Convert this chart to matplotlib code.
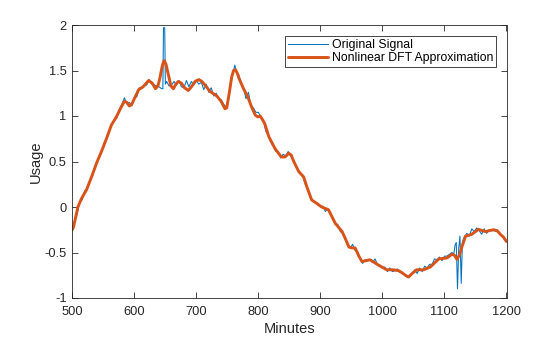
import matplotlib
matplotlib.use("Agg")
import matplotlib.pyplot as plt

# original signal
sig_t = [500, 504, 508, 512, 516, 520, 524, 528, 532, 536, 540, 544, 548, 552, 556, 560,
         564, 568, 572, 576, 580, 584, 588, 592, 596, 600, 604, 608, 612, 616, 620, 624,
         628, 632, 636, 640, 644, 646, 647, 649, 650, 652, 656, 660, 664, 668, 672, 676,
         680, 684, 688, 692, 696, 700, 704, 708, 712, 716, 720, 724, 728, 732, 736, 740,
         744, 748, 752, 756, 760, 762, 764, 768, 772, 776, 780, 784, 788, 792, 796, 800,
         804, 808, 812, 816, 820, 824, 828, 832, 836, 840, 844, 848, 852, 856, 860, 864,
         868, 872, 876, 880, 884, 888, 892, 896, 900, 904, 908, 912, 916, 920, 924, 928,
         932, 936, 940, 944, 948, 952, 956, 960, 964, 968, 972, 976, 980, 984, 988, 992,
         996, 1000, 1004, 1008, 1012, 1016, 1020, 1024, 1028, 1032, 1036, 1040, 1044, 1048,
         1052, 1056, 1060, 1064, 1068, 1072, 1076, 1080, 1084, 1088, 1092, 1096, 1100, 1104,
         1108, 1112, 1115, 1117, 1119, 1121, 1123, 1125, 1127, 1129, 1132, 1136, 1140, 1144,
         1148, 1152, 1156, 1160, 1164, 1168, 1172, 1176, 1180, 1184, 1188, 1192, 1196, 1200]
sig_y = [-0.24, -0.15, -0.07, 0.06, 0.08, 0.18, 0.20, 0.28, 0.34, 0.41, 0.49, 0.56, 0.62, 0.71, 0.75, 0.84,
         0.91, 0.96, 0.98, 1.08, 1.13, 1.20, 1.13, 1.15, 1.11, 1.20, 1.21, 1.31, 1.30, 1.34, 1.34, 1.40,
         1.35, 1.34, 1.33, 1.32, 1.30, 1.30, 1.97, 1.97, 1.35, 1.38, 1.33, 1.34, 1.38, 1.34, 1.39, 1.32,
         1.31, 1.39, 1.32, 1.38, 1.34, 1.39, 1.35, 1.37, 1.29, 1.35, 1.26, 1.31, 1.22, 1.25, 1.19, 1.18,
         1.13, 1.10, 1.19, 1.40, 1.50, 1.56, 1.50, 1.46, 1.37, 1.31, 1.19, 1.26, 1.11, 1.09, 1.04, 1.04,
         0.99, 0.96, 0.83, 0.79, 0.71, 0.67, 0.61, 0.61, 0.54, 0.58, 0.56, 0.61, 0.56, 0.53, 0.45, 0.41,
         0.37, 0.33, 0.24, 0.20, 0.09, 0.06, 0.05, 0.04, 0.00, 0.01, -0.05, -0.02, -0.08, -0.12, -0.19, -0.19,
         -0.27, -0.29, -0.36, -0.42, -0.45, -0.41, -0.48, -0.49, -0.56, -0.62, -0.58, -0.58, -0.58, -0.61, -0.57, -0.63,
         -0.64, -0.67, -0.66, -0.71, -0.67, -0.71, -0.70, -0.68, -0.72, -0.72, -0.75, -0.77, -0.75, -0.74,
         -0.69, -0.73, -0.67, -0.71, -0.65, -0.67, -0.63, -0.63, -0.57, -0.58, -0.55, -0.59, -0.54, -0.54,
         -0.52, -0.50, -0.52, -0.42, -0.39, -0.90, -0.45, -0.32, -0.84, -0.38, -0.33, -0.29, -0.32, -0.24,
         -0.27, -0.23, -0.26, -0.30, -0.24, -0.29, -0.25, -0.26, -0.26, -0.27, -0.28, -0.31, -0.35, -0.38]

# nonlinear DFT approximation
apx_t = [500, 502, 509, 515, 523, 531, 539, 547, 555, 563, 571, 579, 584, 588, 592, 596, 600,
         607, 614, 623, 629, 634, 638, 641, 645, 648, 651, 655, 659, 663, 667, 671, 676, 681,
         687, 692, 698, 704, 709, 714, 722, 733, 740, 743, 746, 749, 753, 757, 760, 763, 766,
         769, 776, 783, 789, 795, 799, 803, 810, 817, 827, 837, 843, 849, 853, 857, 865, 873,
         879, 886, 894, 902, 913, 924, 935, 941, 946, 951, 956, 962, 967, 973, 980, 987, 994,
         1007, 1017, 1026, 1031, 1037, 1042, 1048, 1055, 1066, 1077, 1091, 1104, 1112, 1116,
         1120, 1124, 1128, 1134, 1144, 1155, 1161, 1166, 1172, 1179, 1185, 1190, 1195, 1200]
apx_y = [-0.25, -0.22, 0.00, 0.095, 0.19, 0.33, 0.48, 0.61, 0.75, 0.90, 0.99, 1.10, 1.16, 1.15, 1.11, 1.13, 1.19,
         1.29, 1.32, 1.39, 1.36, 1.30, 1.33, 1.41, 1.55, 1.61, 1.57, 1.45, 1.33, 1.30, 1.35, 1.38, 1.36, 1.31,
         1.28, 1.32, 1.38, 1.40, 1.38, 1.34, 1.27, 1.22, 1.16, 1.12, 1.08, 1.09, 1.25, 1.43, 1.50, 1.51, 1.47,
         1.41, 1.30, 1.21, 1.10, 1.01, 0.99, 1.00, 0.92, 0.77, 0.64, 0.55, 0.55, 0.59, 0.57, 0.50, 0.39, 0.33,
         0.205, 0.077, 0.04, 0.00, -0.03, -0.18, -0.27, -0.36, -0.44, -0.45, -0.45, -0.54, -0.60, -0.59, -0.58, -0.61, -0.64,
         -0.69, -0.69, -0.70, -0.72, -0.75, -0.77, -0.73, -0.69, -0.69, -0.66, -0.57, -0.56, -0.52, -0.53,
         -0.575, -0.53, -0.44, -0.32, -0.30, -0.245, -0.26, -0.27, -0.26, -0.25, -0.26, -0.30, -0.33, -0.38]

plt.rcParams["font.family"] = ["Liberation Sans", "DejaVu Sans"]
plt.rcParams["axes.unicode_minus"] = False
plt.rcParams["xtick.direction"] = "in"
plt.rcParams["ytick.direction"] = "in"

fig = plt.figure(figsize=(5.6, 3.37), dpi=100)
ax = fig.add_axes([72.3 / 560, 39 / 337, 434.2 / 560, 273 / 337])

ax.plot(sig_t, sig_y, color="#0072BD", lw=0.75, label="Original Signal")
ax.plot(apx_t, apx_y, color="#D95319", lw=2.1, label="Nonlinear DFT Approximation",
        solid_joinstyle="round", solid_capstyle="round")

ax.set_xlim(500, 1200)
ax.set_ylim(-1, 2)
ax.set_xticks(range(500, 1201, 100))
ax.set_yticks([-1, -0.5, 0, 0.5, 1, 1.5, 2])
ax.set_yticklabels(["-1", "-0.5", "0", "0.5", "1", "1.5", "2"])

dark = "#262626"
for s in ax.spines.values():
    s.set_color(dark)
    s.set_linewidth(0.6)
ax.tick_params(colors=dark, labelsize=9.3, length=4, width=0.6, top=True, right=True)
ax.tick_params(axis="x", pad=5.5)
ax.tick_params(axis="y", pad=4)
ax.set_xlabel("Minutes", fontsize=10.5, color=dark, labelpad=3)
ax.set_ylabel("Usage", fontsize=10.5, color=dark, labelpad=1)

leg = ax.legend(loc="upper right", bbox_to_anchor=(1 - 10.5 / 434.2, 1 - 11 / 273),
                borderaxespad=0, fancybox=False, framealpha=1, edgecolor=dark,
                fontsize=8.8, handlelength=3.3, handletextpad=0.3, borderpad=0.25,
                labelspacing=0.1)
leg.get_frame().set_linewidth(0.6)

fig.savefig("out.png", dpi=100)
